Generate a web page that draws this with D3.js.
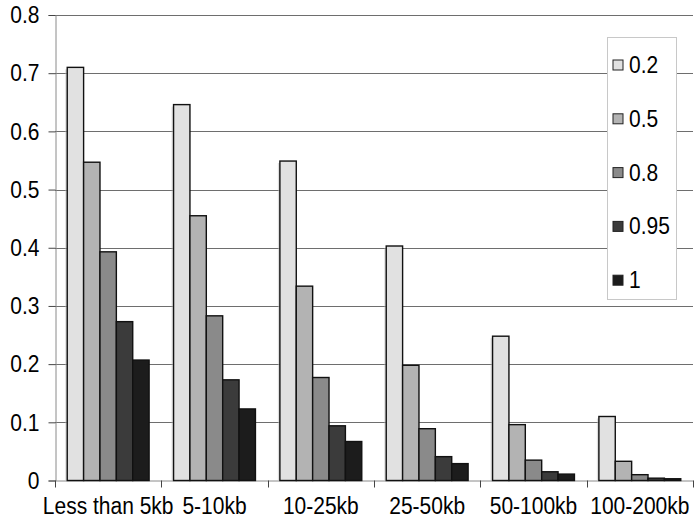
<!DOCTYPE html>
<meta charset="utf-8">
<script src="https://cdn.jsdelivr.net/npm/d3@7"></script>
<style>
body { margin:0; background:white; overflow:hidden; }
text { font-family: "Liberation Sans", Arial, sans-serif; fill:#000; }
</style>
<body>
<div id="chart"></div>
<script>

var categories = ['Less than 5kb', '5-10kb', '10-25kb', '25-50kb', '50-100kb', '100-200kb'];
var seriesNames = ['0.2', '0.5', '0.8', '0.95', '1'];
var seriesColors = ['#e1e1e1', '#b3b3b3', '#8a8a8a', '#3b3b3b', '#1c1c1c'];

var s02  = [0.710, 0.646, 0.549, 0.403, 0.248, 0.110];
var s05  = [0.547, 0.455, 0.334, 0.198, 0.096, 0.033];
var s08  = [0.393, 0.283, 0.177, 0.089, 0.035, 0.010];
var s095 = [0.273, 0.173, 0.094, 0.041, 0.015, 0.004];
var s1   = [0.207, 0.123, 0.067, 0.029, 0.011, 0.003];

var yTicks = [0, 0.1, 0.2, 0.3, 0.4, 0.5, 0.6, 0.7, 0.8];

var allSeries = [s02, s05, s08, s095, s1];

var width = 700, height = 521,
	plotLeft = 55, plotRight = 693, plotTop = 15, plotBottom = 480.5,
	stretch = 1.15;

var svg = d3.select('#chart').append('svg')
	.attr('width', width)
	.attr('height', height);

var x0 = d3.scaleBand().domain(categories).range([plotLeft, plotRight])
	.paddingInner(0.23).paddingOuter(0.115);
var x1 = d3.scaleBand().domain(seriesNames).range([0, x0.bandwidth()]);
var y = d3.scaleLinear().domain([0, 0.8]).range([plotBottom, plotTop]);

// gridlines
svg.selectAll('.grid').data(yTicks.slice(1)).enter()
	.append('line')
	.attr('x1', plotLeft).attr('x2', plotRight)
	.attr('y1', function(d) { return Math.round(y(d)) + 0.5; })
	.attr('y2', function(d) { return Math.round(y(d)) + 0.5; })
	.attr('stroke', '#6e6e6e').attr('stroke-width', 1.1);

// y axis
var yAxis = svg.append('g')
	.attr('transform', 'translate(' + (plotLeft + 0.5) + ',0)')
	.call(d3.axisLeft(y).tickValues(yTicks).tickSize(7).tickPadding(9)
		.tickFormat(function(d) { return d === 0 ? '0' : d3.format('.1f')(d); }));
yAxis.select('.domain').attr('stroke', '#8a8a8a');
yAxis.selectAll('.tick line').attr('stroke', '#444');
yAxis.selectAll('text').style('font-size', '21px').attr('fill', '#000')
	.attr('transform', 'scale(1,' + stretch + ')');

// x axis
var xAxis = svg.append('g')
	.attr('transform', 'translate(0,' + plotBottom + ')')
	.call(d3.axisBottom(x0).tickSize(0).tickPadding(14));
xAxis.select('.domain').attr('stroke', '#8a8a8a');
xAxis.selectAll('text').style('font-size', '21px').attr('fill', '#000')
	.attr('transform', 'scale(1,' + stretch + ')');
var bounds = categories.map(function(c) { return x0(c) - x0.step() * 0.115; });
bounds.push(plotRight);
svg.selectAll('.xtick').data(bounds).enter()
	.append('line')
	.attr('x1', function(d) { return Math.round(d) + 0.5; })
	.attr('x2', function(d) { return Math.round(d) + 0.5; })
	.attr('y1', plotBottom).attr('y2', plotBottom + 7)
	.attr('stroke', '#444');

// bars
var groups = svg.selectAll('.group').data(categories).enter()
	.append('g')
	.attr('transform', function(c) { return 'translate(' + x0(c) + ',0)'; });

groups.each(function(c, ci) {
	var g = d3.select(this);
	var rows = seriesNames.map(function(s, si) { return {s: s, si: si, v: allSeries[si][ci]}; });
	g.selectAll('.shadow').data(rows).enter()
		.append('rect')
		.attr('x', function(d) { return x1(d.s) - 2; })
		.attr('y', function(d) { return y(d.v) + 2; })
		.attr('width', x1.bandwidth())
		.attr('height', function(d) { return Math.max(0, plotBottom - y(d.v) - 2); })
		.attr('fill', '#bdbdbd').attr('opacity', 0.5);
	g.selectAll('.bar').data(rows).enter()
		.append('rect')
		.attr('x', function(d) { return x1(d.s); })
		.attr('y', function(d) { return y(d.v); })
		.attr('width', x1.bandwidth())
		.attr('height', function(d) { return plotBottom - y(d.v); })
		.attr('fill', function(d) { return seriesColors[d.si]; })
		.attr('stroke', '#111').attr('stroke-width', 1.4);
});

// legend
var legend = svg.append('g');
legend.append('rect')
	.attr('x', 607.5).attr('y', 37.5).attr('width', 69).attr('height', 262)
	.attr('fill', 'white').attr('stroke', '#c8c8c8');
var items = legend.selectAll('.item').data(seriesNames).enter()
	.append('g')
	.attr('transform', function(d, i) { return 'translate(613,' + (65 + i * 53.8) + ')'; });
items.append('rect')
	.attr('x', 0).attr('y', -5).attr('width', 10).attr('height', 10)
	.attr('fill', function(d, i) { return seriesColors[i]; })
	.attr('stroke', '#222').attr('stroke-width', 1);
items.append('text')
	.attr('x', 16).attr('dy', '0.33em')
	.attr('transform', 'scale(1,' + stretch + ')')
	.style('font-size', '21px')
	.text(function(d) { return d; });

</script>
</body>
